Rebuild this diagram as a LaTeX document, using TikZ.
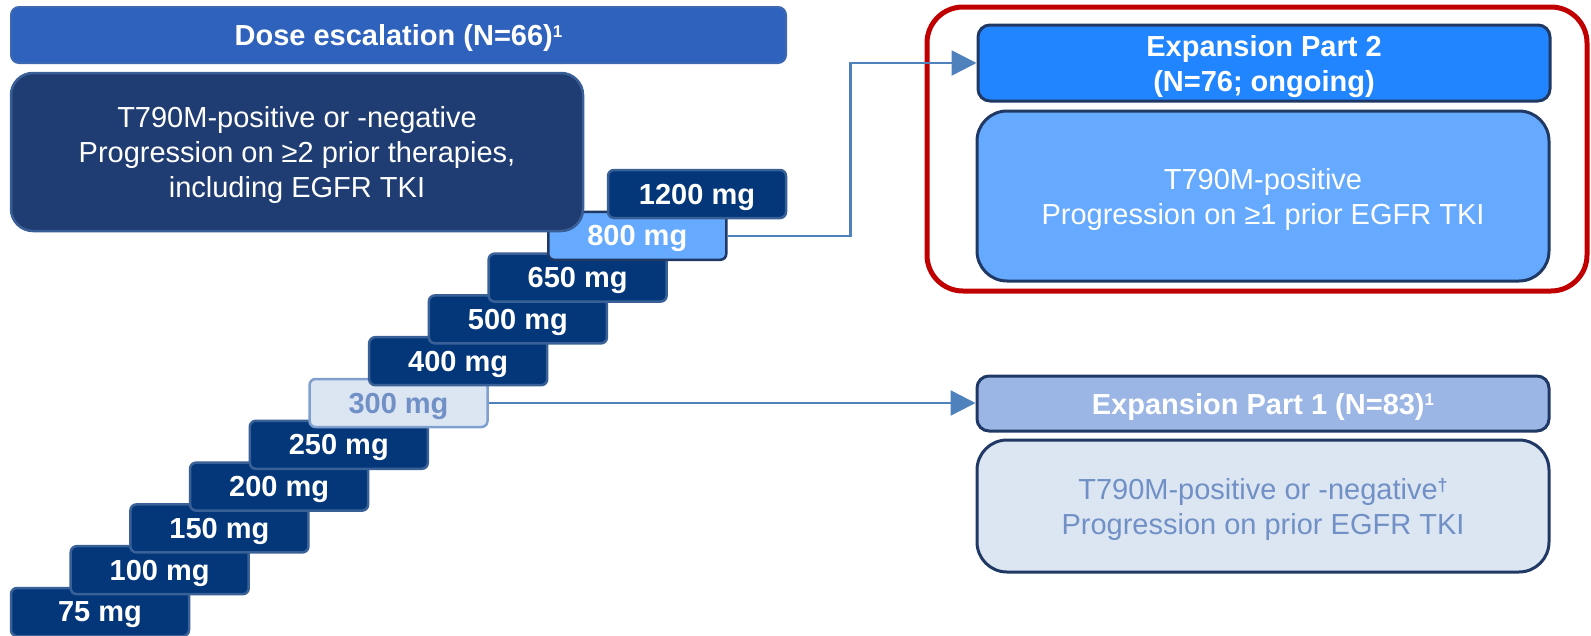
\documentclass[tikz,border=0pt]{standalone}
\usepackage{fontspec}
\setmainfont{Liberation Sans}
\usetikzlibrary{arrows.meta,calc}
\definecolor{barblue}{HTML}{2F62BC}
\definecolor{barborder}{HTML}{3D68B2}
\definecolor{darkbox}{HTML}{1F3D73}
\definecolor{darkborder}{HTML}{3A5E96}
\definecolor{dosefill}{HTML}{03377A}
\definecolor{doseborder}{HTML}{3A6197}
\definecolor{navyline}{HTML}{1F3864}
\definecolor{lightblue}{HTML}{66AAFF}
\definecolor{brightblue}{HTML}{2185FF}
\definecolor{paleblue}{HTML}{DCE6F2}
\definecolor{palebord}{HTML}{7F9FCF}
\definecolor{paletext}{HTML}{7090C6}
\definecolor{midblue}{HTML}{9BB5E4}
\definecolor{arrowblue}{HTML}{4F81BD}
\definecolor{redframe}{HTML}{C00000}
\newcommand{\supone}{\raisebox{8.5pt}{\fontsize{17}{17}\selectfont\bfseries 1}}
\newcommand{\supdag}{\raisebox{8pt}{\fontsize{18}{18}\selectfont\bfseries †}}
\tikzset{
  txt/.style={font=\fontsize{29}{35}\selectfont, align=center, inner sep=0pt, text depth=0pt},
  bold/.style={txt, font=\fontsize{29}{35}\selectfont\bfseries},
  dose/.style={bold, draw=doseborder, line width=2.5pt, fill=dosefill, text=white,
    rounded corners=6pt, minimum width=178pt, minimum height=48pt},
  doselight/.style={dose, draw=navyline, fill=lightblue},
  dosepale/.style={dose, draw=palebord, fill=paleblue, text=paletext},
  hdr/.style={bold, text=white, draw=navyline, line width=3pt, rounded corners=12pt,
    minimum width=572pt},
  body/.style={txt, draw=navyline, line width=3pt, rounded corners=30pt,
    minimum width=572pt},
  conn/.style={draw=arrowblue, line width=2.5pt, -{Triangle[length=25pt,width=25pt]}},
}
\begin{document}
\begin{tikzpicture}[x=1pt,y=-1pt]
\useasboundingbox (0,0) rectangle (1591,635);
% dose escalation header
\node[bold, text=white, fill=barblue, draw=barborder, line width=2pt, rounded corners=8pt,
  minimum width=775pt, minimum height=56pt] (esc) at (398.5,35) {Dose escalation (N=66)\supone};
% dose steps
\foreach \i/\v/\s in {0/75/dose,1/100/dose,2/150/dose,3/200/dose,4/250/dose,5/300/dosepale,
  6/400/dose,7/500/dose,8/650/dose,9/800/doselight,10/1200/dose}{
  \node[\s] (d\v) at ({100+59.7*\i},{612-41.8*\i}) {\v{} mg};
}
% dose escalation population
\node[txt, text=white, fill=darkbox, draw=darkborder, line width=2.5pt, rounded corners=22pt,
  minimum width=572pt, minimum height=158pt] (pop) at (297,152)
  {T790M-positive or -negative\\Progression on ≥2 prior therapies,\\including EGFR TKI};
% expansion part 2
\node[draw=redframe, line width=5pt, rounded corners=36pt, minimum width=660pt,
  minimum height=284pt, inner sep=0pt] (frame) at (1257,149) {};
\node[hdr, fill=brightblue, minimum height=76pt] (h2) at (1264,63) {Expansion Part 2\\(N=76; ongoing)};
\node[body, fill=lightblue, text=white, minimum height=170pt] (b2) at (1263,196)
  {T790M-positive\\Progression on ≥1 prior EGFR TKI};
% expansion part 1
\node[hdr, fill=midblue, minimum height=55pt] (h1) at (1263,403.5) {Expansion Part 1 (N=83)\supone};
\node[body, fill=paleblue, text=paletext, minimum height=132pt] (b1) at (1263,506)
  {T790M-positive or -negative\supdag\\Progression on prior EGFR TKI};
% connectors
\path (h2.west) ++(-126,0) coordinate (bend);
\draw[conn] (d800.east) -| (bend) -- (h2.west);
\draw[conn] (d300.east) -- (d300.east -| h1.west);
\end{tikzpicture}
\end{document}
